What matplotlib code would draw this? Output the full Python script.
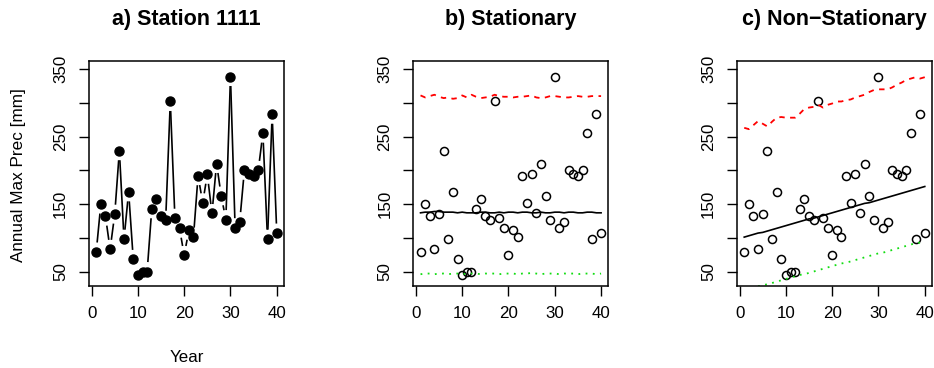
import numpy as np
import matplotlib
matplotlib.use("Agg")
import matplotlib.pyplot as plt

plt.rcParams['font.family'] = ['Liberation Sans', 'DejaVu Sans']

years = list(range(1, 41))
prec = [79, 150, 132, 83, 135, 229, 98, 168, 68, 45,
        50, 50, 143, 157, 132, 126, 302, 129, 114, 74,
        111, 101, 192, 152, 194, 136, 210, 162, 127, 339,
        115, 124, 200, 195, 192, 200, 255, 98, 283, 107]

stat_median = [137, 138, 138, 139, 139, 138, 138, 138, 137, 138,
               137, 137, 137, 138, 138, 137, 137, 138, 137, 138,
               138, 137, 138, 138, 137, 137, 138, 137, 137, 138,
               138, 137, 138, 138, 137, 137, 138, 138, 137, 137]
stat_upper = [311, 308, 310, 312, 309, 307, 308, 306, 307, 311,
              308, 312, 309, 307, 308, 309, 312, 310, 309, 309,
              308, 309, 309, 310, 311, 308, 307, 308, 310, 310,
              309, 308, 308, 309, 310, 309, 309, 310, 310, 310]
stat_lower = [46, 47, 47, 46, 47, 47, 46, 47, 47, 46,
              47, 47, 47, 46, 47, 47, 47, 46, 47, 47,
              47, 46, 47, 47, 48, 47, 46, 47, 47, 47,
              46, 47, 47, 47, 46, 47, 47, 47, 46, 47]

ns_median = [101, 103, 105, 107, 108, 110, 112, 114, 116, 118,
             120, 122, 124, 126, 128, 129, 131, 133, 135, 137,
             139, 141, 143, 145, 147, 149, 151, 152, 154, 156,
             158, 160, 162, 164, 166, 168, 170, 172, 174, 176]
ns_upper = [263, 261, 267, 273, 269, 265, 272, 278, 279, 278,
            278, 278, 284, 291, 293, 294, 297, 293, 297, 299,
            302, 302, 304, 305, 308, 310, 312, 316, 319, 320,
            320, 320, 323, 327, 330, 334, 336, 338, 336, 338]
ns_lower = [22, 24, 26, 28, 30, 31, 33, 35, 37, 39,
            41, 43, 45, 46, 48, 50, 52, 54, 56, 58,
            60, 62, 63, 65, 67, 69, 71, 73, 75, 77,
            78, 80, 82, 84, 86, 88, 90, 92, 93, 96]

titles = ["a) Station 1111", "b) Stationary", "c) Non\u2212Stationary"]
xticks = [0, 10, 20, 30, 40]
yticks = [50, 100, 150, 200, 250, 300, 350]
ylabels = ["50", "", "150", "", "250", "", "350"]

W, H = 934, 368
fig = plt.figure(figsize=(W / 100, H / 100), dpi=100)

lefts = [89, 413.3, 737]
top, bottom = 61, 285.7
axw = 195
axes = []
for i, l in enumerate(lefts):
    ax = fig.add_axes([l / W, 1 - bottom / H, axw / W, (bottom - top) / H])
    ax.set_xlim(-0.56, 41.56)
    ax.set_ylim(29, 362)
    ax.set_xticks(xticks)
    ax.set_xticklabels([str(t) for t in xticks])
    ax.set_yticks(yticks)
    ax.set_yticklabels(ylabels, rotation=90, va='center')
    ax.tick_params(axis='both', direction='out', length=7, width=1.0,
                   labelsize=12.2, colors='black')
    ax.tick_params(axis='y', pad=8)
    ax.tick_params(axis='x', pad=7.5)
    for s in ax.spines.values():
        s.set_linewidth(1.1)
        s.set_color('black')
    fig.text((l + axw / 2) / W, 1 - 20 / H, titles[i], ha='center', va='center',
             fontsize=15.5, fontweight='bold')
    axes.append(ax)

# Panel a: type "b" (points joined by lines with gaps)
ax = axes[0]
pts = ax.transData.transform(np.column_stack([years, prec]))
gap = 9.5
inv = ax.transData.inverted()
for p0, p1 in zip(pts[:-1], pts[1:]):
    d = p1 - p0
    L = np.hypot(*d)
    if L > 2 * gap:
        u = d / L
        a = inv.transform(p0 + gap * u)
        b = inv.transform(p1 - gap * u)
        ax.plot([a[0], b[0]], [a[1], b[1]], color='black', lw=1.2,
                solid_capstyle='butt')
ax.plot(years, prec, 'o', color='black', markersize=6.5, zorder=3)

# Panel b
ax = axes[1]
ax.plot(years, prec, 'o', mfc='none', mec='black', markersize=5.8, mew=1.1)
ax.plot(years, stat_median, color='black', lw=1.2)
ax.plot(years, stat_upper, color='#ff0000', lw=1.3, linestyle=(0, (3, 3)))
ax.plot(years, stat_lower, color='#11dd11', lw=1.3, linestyle=(0, (1, 3)))

# Panel c
ax = axes[2]
ax.plot(years, prec, 'o', mfc='none', mec='black', markersize=5.8, mew=1.1)
ax.plot(years, ns_median, color='black', lw=1.2)
ax.plot(years, ns_upper, color='#ff0000', lw=1.3, linestyle=(0, (3, 3)))
ax.plot(years, ns_lower, color='#11dd11', lw=1.3, linestyle=(0, (1, 3)))

fig.text(19 / W, 1 - 175 / H, "Annual Max Prec [mm]", rotation=90,
         ha='center', va='center', fontsize=12.3)
fig.text((89 + axw / 2) / W, 1 - 358 / H, "Year", ha='center', va='center',
         fontsize=12.2)

fig.savefig("out.png", dpi=100)
